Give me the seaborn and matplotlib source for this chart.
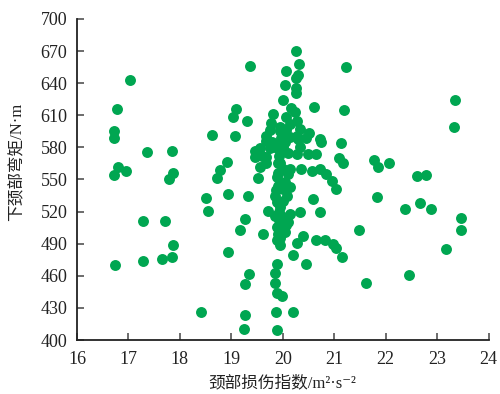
import matplotlib.pyplot as plt
import pandas as pd
import seaborn as sns

# neck injury index (m^2/s^2) and lower neck bending moment (N*m)
nic = [
    # left group
    17.03, 16.77, 16.72, 16.72, 17.37, 17.84, 16.80, 16.95, 16.71, 17.86,
    17.79, 18.62, 18.50, 18.55, 18.72, 18.78, 18.91, 18.94, 17.29, 17.71,
    17.86, 17.84, 17.66, 17.29, 16.73, 18.94, 18.41,
    # right group
    21.22, 21.20, 21.14, 21.09, 21.17, 21.77, 21.86, 22.06, 22.61, 22.78,
    23.35, 23.33, 21.84, 22.37, 22.66, 22.88, 23.46, 23.46, 23.18, 22.45,
    21.61, 21.49, 21.16,
    # central cluster
    20.25, 19.36, 20.31, 20.06, 20.30, 20.25, 20.05, 20.25, 20.25, 20.01,
    20.61, 19.09, 19.03, 19.31, 19.07, 19.81, 20.17, 20.23, 20.07, 20.27,
    20.14, 19.78, 19.94, 19.75, 20.07, 20.33, 20.52, 20.27, 19.68, 19.97,
    20.72, 19.68, 20.07, 20.30, 20.46, 20.75, 19.46, 19.55, 20.01, 20.33,
    20.27, 20.49, 20.65, 19.46, 19.59, 19.68, 19.94, 20.14, 20.36, 20.56,
    20.72, 20.85, 20.95, 21.04, 19.52, 19.88, 19.91, 20.01, 20.14, 19.33,
    19.84, 19.88, 19.94, 20.59, 20.72, 19.71, 19.84, 20.01, 20.14, 20.33,
    19.26, 19.17, 19.62, 19.88, 19.97, 20.07, 20.40, 19.91, 20.04, 19.88,
    19.94, 20.27, 20.65, 20.82, 20.98, 21.04, 20.19, 20.45, 19.88, 19.84,
    19.84, 19.88, 19.99, 19.35, 19.26, 19.26, 19.24, 19.86, 19.89, 20.20,
    19.75, 19.91, 19.68, 19.55, 19.95, 20.05, 19.92, 20.00, 19.90, 20.05,
    19.87, 20.00, 19.93, 20.10, 19.85, 20.10, 19.80, 19.95, 20.15, 19.90,
    20.10, 19.95, 20.08, 19.92, 20.02, 19.95,
]
moment = [
    643, 616, 595, 589, 576, 577, 562, 558, 554, 556,
    550, 592, 533, 521, 551, 559, 566, 536, 511, 511,
    489, 478, 476, 474, 470, 482, 426,
    655, 615, 584, 570, 565, 568, 562, 565, 553, 554,
    624, 599, 534, 522, 528, 522, 514, 503, 485, 461,
    453, 503, 478,
    670, 656, 658, 651, 648, 645, 638, 635, 631, 624,
    618, 616, 608, 605, 591, 611, 617, 613, 608, 605,
    602, 603, 599, 596, 596, 597, 593, 591, 591, 589,
    588, 586, 589, 588, 589, 585, 577, 579, 580, 580,
    574, 574, 574, 571, 572, 565, 565, 560, 560, 558,
    560, 555, 549, 541, 551, 552, 544, 541, 543, 535,
    535, 529, 524, 532, 520, 521, 516, 515, 518, 520,
    513, 503, 499, 506, 501, 507, 497, 499, 501, 493,
    489, 491, 493, 493, 490, 486, 479, 471, 471, 463,
    453, 444, 441, 462, 452, 423, 410, 426, 409, 426,
    579, 579, 571, 562, 595, 585, 572, 560, 556, 548,
    540, 530, 512, 510, 580, 575, 585, 583, 590, 565,
    555, 545, 535, 520, 505, 495,
]

x_ticks = [16, 17, 18, 19, 20, 21, 22, 23, 24]
y_ticks = [400, 430, 460, 490, 520, 550, 580, 610, 640, 670, 700]

df = pd.DataFrame({'nic': nic, 'moment': moment})

sns.set_style('ticks')
plt.rcParams['font.family'] = ['Liberation Serif', 'DejaVu Serif', 'Noto Sans CJK SC']
plt.rcParams['axes.unicode_minus'] = False

fig = plt.figure(figsize=(5.0, 3.94), dpi=100)
ax = fig.add_axes([0.154, 0.137, 0.823, 0.815])

sns.scatterplot(
    data=df, x='nic', y='moment', ax=ax,
    color='#00a651', s=62, linewidth=0, alpha=1, zorder=3,
)

ax.set_xlim(16, 24)
ax.set_ylim(400, 700)
ax.set_xticks(x_ticks)
ax.set_yticks(y_ticks)
sns.despine(ax=ax)
for side in ['left', 'bottom']:
    ax.spines[side].set_linewidth(1.3)
    ax.spines[side].set_color('#222222')
ax.tick_params(axis='both', direction='in', length=5, width=1.1,
               color='#444444', labelsize=13, labelcolor='#222222')
ax.tick_params(axis='y', pad=7)
ax.tick_params(axis='x', pad=8)

ax.set_xlabel('颈部损伤指数/m²·s⁻²', fontsize=12, color='#222222')
ax.set_ylabel('下颈部弯矩/N·m', fontsize=12, color='#222222')
ax.xaxis.set_label_coords(0.5, -0.11)
ax.yaxis.set_label_coords(-0.125, 0.555)

fig.savefig('out.png', dpi=100)
plt.close(fig)
